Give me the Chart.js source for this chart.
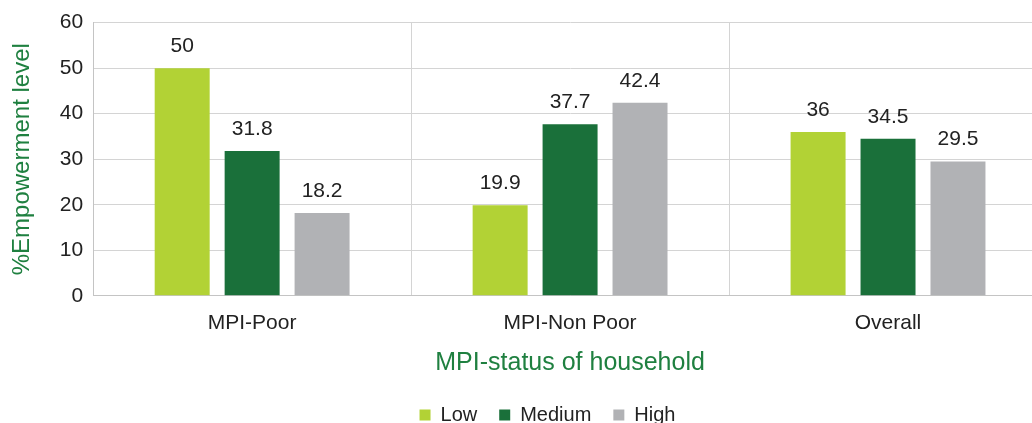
<!DOCTYPE html>
<html>
<head>
<meta charset="utf-8">
<script src="https://cdn.jsdelivr.net/npm/chart.js@4"></script>
<style>
  html, body { margin: 0; padding: 0; background: #fff; overflow: hidden; }
  #wrap { width: 1050px; height: 423px; }
</style>
</head>
<body>
<div id="wrap"><canvas id="empChart"></canvas></div>
<script>
const categories = ["MPI-Poor", "MPI-Non Poor", "Overall"];
const lowValues = [50, 19.9, 36];
const mediumValues = [31.8, 37.7, 34.5];
const highValues = [18.2, 42.4, 29.5];

Chart.defaults.font.family = "'Liberation Sans', Arial, sans-serif";
Chart.defaults.color = "#222";

// value labels above the bars
const barLabels = {
  id: "barLabels",
  afterDatasetsDraw(chart) {
    const ctx = chart.ctx;
    ctx.save();
    ctx.font = "21px 'Liberation Sans', Arial, sans-serif";
    ctx.fillStyle = "#222";
    ctx.textAlign = "center";
    ctx.textBaseline = "middle";
    chart.data.datasets.forEach((ds, i) => {
      chart.getDatasetMeta(i).data.forEach((bar, j) => {
        ctx.fillText(String(ds.data[j]), bar.x, bar.y - 22);
      });
    });
    ctx.restore();
  }
};

// nudge the legend a bit to the right, like the original
const legendShift = {
  id: "legendShift",
  afterLayout(chart) {
    chart.legend.left += 40;
  }
};

new Chart(document.getElementById("empChart"), {
  type: "bar",
  data: {
    labels: categories,
    datasets: [
      { label: "Low", data: lowValues, backgroundColor: "#b2d235" },
      { label: "Medium", data: mediumValues, backgroundColor: "#1a703a" },
      { label: "High", data: highValues, backgroundColor: "#b1b2b5" }
    ]
  },
  options: {
    responsive: true, maintainAspectRatio: false,
    animation: false,
    layout: { padding: { top: 2, right: 3, bottom: -12, left: 8 } },
    datasets: { bar: { categoryPercentage: 0.66, barPercentage: 0.786 } },
    plugins: {
      legend: {
        position: "bottom",
        labels: { boxWidth: 11, boxHeight: 11, padding: 22, font: { size: 20 }, color: "#222" }
      },
      tooltip: { enabled: false }
    },
    scales: {
      x: {
        grid: { color: "#d4d4d4", drawTicks: false },
        border: { color: "#c4c4c4" },
        ticks: { padding: 15, font: { size: 21 }, color: "#222" },
        title: { display: true, text: "MPI-status of household", color: "#1f8040", font: { size: 25 }, padding: { top: -3, bottom: 5 } }
      },
      y: {
        min: 0, max: 60,
        grid: { color: "#d4d4d4", drawTicks: false },
        border: { color: "#c4c4c4" },
        ticks: { stepSize: 10, padding: 10, font: { size: 21 }, color: "#222" },
        title: { display: true, text: "%Empowerment level", color: "#1f8040", font: { size: 24 }, padding: { top: 0, bottom: 13 } }
      }
    }
  },
  plugins: [barLabels, legendShift]
});
</script>
</body>
</html>
